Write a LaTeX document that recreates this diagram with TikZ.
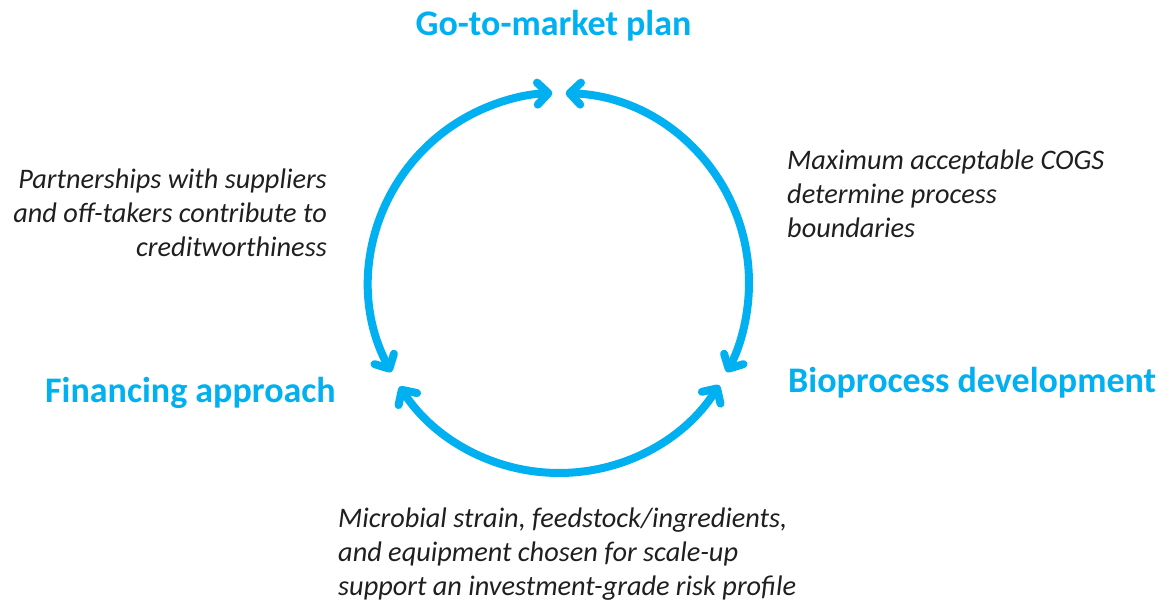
\documentclass[tikz,border=0pt]{standalone}
\usepackage{fontspec}
\setmainfont{Carlito}
\usetikzlibrary{arrows.meta,calc}
\definecolor{cyclecol}{HTML}{00B0F0}
\definecolor{notecol}{HTML}{1F1F1F}
\begin{document}
\begin{tikzpicture}[x=1pt,y=1pt,
  cyclearc/.style={draw=cyclecol, line width=8pt, line cap=round,
    {Straight Barb[length=11pt,width=22pt,line cap=round,line join=round]}-{Straight Barb[length=11pt,width=22pt,line cap=round,line join=round]}},
  stagelabel/.style={text=cyclecol, font=\fontsize{36}{42}\selectfont\bfseries, inner sep=0pt},
  notelabel/.style={text=notecol, font=\fontsize{28.3}{33.7}\selectfont\itshape, inner sep=0pt}]
\useasboundingbox (0,0) rectangle (1170,-604);

% centre of the cycle and the end points of its three arcs
\coordinate (c) at (559,-283);
\coordinate (topL) at ($(c)+(92:190pt)$);
\coordinate (topR) at ($(c)+(88:190pt)$);
\coordinate (leftU) at ($(c)+(208:190pt)$);
\coordinate (leftD) at ($(c)+(213:190pt)$);
\coordinate (rightU) at ($(c)+(332:190pt)$);
\coordinate (rightD) at ($(c)+(327.5:190pt)$);

% the three double-headed arcs
\draw[cyclearc] (leftU) arc[start angle=208, end angle=92, radius=190pt];
\draw[cyclearc] (topR) arc[start angle=88, end angle=-28, radius=190pt];
\draw[cyclearc] (rightD) arc[start angle=-32.5, end angle=-147, radius=190pt];

% stage names
\node[stagelabel, anchor=base] (gtm) at (553.5,-35.5) {Go-to-market plan};
\node[stagelabel, anchor=base west] (fin) at (45,-402) {Financing approach};
\node[stagelabel, anchor=base west] (bio) at (788,-392) {Bioprocess development};

% notes between the stages
\node[notelabel, anchor=north east, align=right] (noteL) at (327,-169)
  {Partnerships with suppliers\\and off-takers contribute to\\creditworthiness};
\node[notelabel, anchor=north west, align=left] (noteR) at (787,-150)
  {Maximum acceptable COGS\\determine process\\boundaries};
\node[notelabel, anchor=north west, align=left] (noteB) at (338,-508)
  {Microbial strain, feedstock/ingredients,\\and equipment chosen for scale-up\\support an investment-grade risk profile};
\end{tikzpicture}
\end{document}
